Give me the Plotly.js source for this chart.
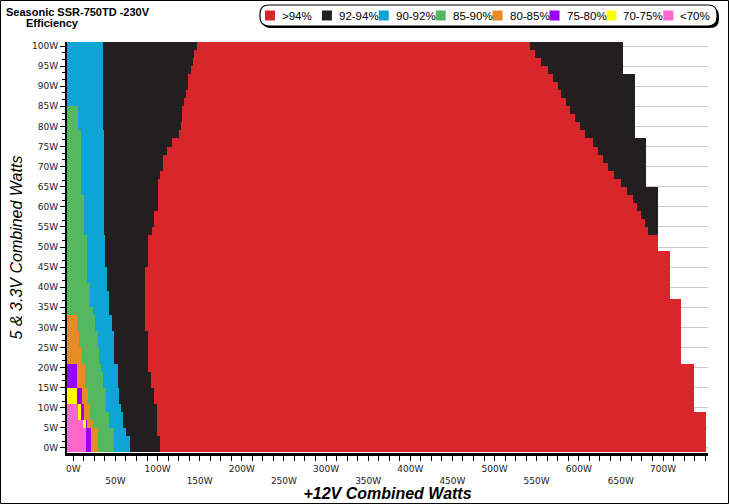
<!DOCTYPE html>
<html><head><meta charset="utf-8">
<script src="https://cdn.plot.ly/plotly-3.0.1.min.js"></script>
<style>html,body{margin:0;padding:0;background:#fff}#chart{width:729px;height:504px}</style>
</head><body><div id="chart"></div>
<script>
// rows of the efficiency map: 5 & 3.3V combined load (W)
const rows = [0,2,4,6,8,10,12,14,16,18,20,22,24,26,28,30,32,34,36,38,40,42,44,46,48,50,
              52,54,56,58,60,62,64,66,68,70,72,74,76,78,80,82,84,86,88,90,92,94,96,98,100];

// right end (+12V W) of each efficiency band in each row, left to right; null / missing = band absent
const pinkEnd   = [15.1,15.1,15.1,11,5.9,5.9];
const yellowEnd = [null,null,null,15.1,9.5,9.5,3.9,3.9];
const purpleEnd = [21,21,21,16.6,13,13,9.9,9.9,3.9,3.9,3.9];
const orangeEnd = [28.9,28.9,28.9,23.8,20.2,20.2,17.8,17.8,13.4,13.4,13.4,10.5,10.5,7.1,7.1,3.9,3.9];
const greenEnd  = [48.7,48.7,48.7,42.8,42.8,38.8,38.8,38.8,35.6,35.6,32.9,31,31,28.9,28.9,26.1,26.1,
                   22.9,19.8,19.8,19.8,15.8,15.8,15.8,15.8,15.8,15.8,13.1,13.1,13.1,13.1,13.1,
                   9.1,9.1,9.1,9.1,9.1,9.1,9.1,9.1,5.1,5.1,5.1];
const blueEnd   = [67.3,67.3,62.6,59.4,59.4,56.7,54.6,54.6,52.6,52.6,52.6,48.7,48.7,48.7,48.7,46,46,
                   42.8,42.8,42.8,39.5,39.5,39.5,37.5,37.5,37.5,37.5,
                   36.8,36.8,36.8,36.8,36.8,36.8,36.8,36.8,36.8,36.8,36.8,36.8,36.8,
                   35.6,35.6,35.6,35.6,35.6,35.6,35.6,35.6,35.6,35.6,35.6];
const blackEnd  = [103,103,98.9,98.9,98.9,98.9,96.2,96.2,92.3,92.3,88.2,88.2,88.2,88.2,88.2,
                   85.5,85.5,85.5,85.5,85.5,85.5,85.5,85.5,89.1,89.1,89.1,89.1,93,96.2,96.2,
                   100.1,100.1,100.1,100.1,103,106.9,106.9,111.6,117.6,125.9,127.9,129.1,129.1,
                   131.8,133.7,135.7,136.6,139.7,141.7,143.7,147.3];
const redEnd    = [750.6,750.6,750.6,750.6,750.6,736.3,736.3,736.3,736.3,736.3,736.3,
                   721.7,721.7,721.7,721.7,721.7,721.7,721.7,721.7,
                   707.8,707.8,707.8,707.8,707.8,707.8,694,694,
                   682.1,678.1,673.4,668.6,663.9,656.8,649.6,641.9,634.6,628.6,622.7,616.7,
                   607.5,601,595,589,584.3,579,575,569.3,563,554.6,547.5,541.6];
const totalEnd  = [750.6,750.6,750.6,750.6,750.6,736.3,736.3,736.3,736.3,736.3,736.3,
                   721.7,721.7,721.7,721.7,721.7,721.7,721.7,721.7,
                   707.8,707.8,707.8,707.8,707.8,707.8,
                   694,694,694,694,694,694,694,694,
                   680.2,680.2,680.2,680.2,680.2,680.2,
                   666.3,666.3,666.3,666.3,666.3,666.3,666.3,666.3,
                   652.4,652.4,652.4,652.4];

const bandNames  = ['<70%','70-75%','75-80%','80-85%','85-90%','90-92%','92-94%','>94%','92-94%'];
const bandColors = ['#FF66CC','#FFFF00','#9900FF','#E98B22','#55B75E','#0EA5D6','#231F20','#D9262B','#231F20'];
const xTickVals = [0,50,100,150,200,250,300,350,400,450,500,550,600,650,700];
const xTickText = ['0W','<br>50W','100W','<br>150W','200W','<br>250W','300W','<br>350W','400W',
                   '<br>450W','500W','<br>550W','600W','<br>650W','700W'];

const X_MIN = -7.5, X_MAX = 753.4;
const bands = [pinkEnd,yellowEnd,purpleEnd,orangeEnd,greenEnd,blueEnd,blackEnd,redEnd,totalEnd];
const bases = bands.map(()=>[]), lens = bands.map(()=>[]);
rows.forEach((r,i)=>{
  let prev = X_MIN;
  bands.forEach((arr,k)=>{
    const e = arr[i];
    bases[k].push(prev);
    if (e === null || e === undefined) { lens[k].push(0); }
    else { lens[k].push(e - prev); prev = e; }
  });
});

const legendOrder = [7,6,5,4,3,2,1,0];
const traces = [7,6,5,4,3,2,1,0,8].map(k=>({
  type:'bar', orientation:'h', y: rows, x: lens[k], base: bases[k], width: 2,
  name: bandNames[k], marker:{color: bandColors[k], line:{width:0}},
  showlegend: false, hoverinfo:'skip'
}));

// px -> paper helpers for decorations (legend frame, legend keys, outer border)
const L=67, R=708, T=42, B=453;
const px = v => (v-L)/(R-L), py = v => (B-v)/(B-T);
function rrect(x0,y0,x1,y1,r){
  const P=(x,y)=>px(x)+','+py(y);
  return 'M'+P(x0+r,y0)+' L'+P(x1-r,y0)+' Q'+P(x1,y0)+' '+P(x1,y0+r)+' L'+P(x1,y1-r)+
         ' Q'+P(x1,y1)+' '+P(x1-r,y1)+' L'+P(x0+r,y1)+' Q'+P(x0,y1)+' '+P(x0,y1-r)+
         ' L'+P(x0,y0+r)+' Q'+P(x0,y0)+' '+P(x0+r,y0)+' Z';
}

const shapes = [
  {type:'path', xref:'paper', yref:'paper', path:rrect(262,7,719,28,9), fillcolor:'#000', line:{width:0}},
  {type:'path', xref:'paper', yref:'paper', path:rrect(260,5,717,26,9), fillcolor:'#fff', line:{color:'#000', width:1.2}},
  {type:'rect', xref:'paper', yref:'paper', x0:px(0.5), x1:px(728.5), y0:py(0.5), y1:py(503.5),
   line:{color:'#000', width:1}, fillcolor:'rgba(0,0,0,0)'}
];
const annotations = [{text:'Efficiency', xref:'paper', yref:'paper', x:px(24), y:py(23), xanchor:'left', yanchor:'middle',
  showarrow:false, font:{family:'Liberation Sans, Arial, sans-serif', size:11, weight:'bold', color:'#000'}}];

// legend keys
legendOrder.forEach((k,i)=>{
  const sx = 265 + i*56.9;
  shapes.push({type:'rect', xref:'paper', yref:'paper', x0:px(sx), x1:px(sx+10), y0:py(20.5), y1:py(10.5),
               fillcolor:bandColors[k], line:{width:0}});
  annotations.push({text:bandNames[k], xref:'paper', yref:'paper', x:px(sx+15), y:py(15.5),
               xanchor:'left', yanchor:'middle', showarrow:false,
               font:{family:'Liberation Sans, Arial, sans-serif', size:11.5, color:'#000'}});
});

const layout = {
  width:729, height:504, margin:{l:67,r:21,t:42,b:51,pad:0},
  paper_bgcolor:'#fff', plot_bgcolor:'#fff',
  barmode:'overlay', bargap:0, showlegend:false,
  font:{family:'Liberation Sans, Arial, sans-serif', color:'#000'},
  title:{text:'Seasonic SSR-750TD -230V', xref:'container', x:6/729, xanchor:'left',
         yref:'container', y:1-12/504, yanchor:'middle',
         font:{family:'Liberation Sans, Arial, sans-serif', size:11, weight:'bold', color:'#000'}},
  xaxis:{range:[X_MIN,X_MAX], tickmode:'array', tickvals:xTickVals, ticktext:xTickText,
         ticks:'outside', ticklen:5, tickwidth:1, tickcolor:'#000',
         minor:{dtick:12.5, tick0:0, ticks:'outside', ticklen:5, tickwidth:1, tickcolor:'#000', showgrid:false},
         showline:true, linecolor:'#000', linewidth:3, showgrid:false, zeroline:false,
         tickfont:{family:'DejaVu Sans', size:9, color:'#222'},
         title:{text:'+12V Combined Watts', standoff:2,
                font:{family:'Liberation Sans, Arial, sans-serif', size:16, weight:'bold', style:'italic', color:'#000'}}},
  yaxis:{range:[-1.25,101], tickmode:'linear', tick0:0, dtick:5, ticksuffix:'W',
         ticks:'outside', ticklen:5, tickwidth:1, tickcolor:'#000',
         minor:{dtick:5/3, tick0:0, ticks:'outside', ticklen:3, tickwidth:1, tickcolor:'#000', showgrid:false},
         showline:true, linecolor:'#000', linewidth:2, showgrid:true, gridcolor:'#c8c8c8', gridwidth:1,
         zeroline:false, tickfont:{family:'DejaVu Sans', size:9, color:'#222'},
         title:{text:'5 & 3.3V Combined Watts', standoff:6,
                font:{family:'Liberation Sans, Arial, sans-serif', size:16, style:'italic', color:'#000'}}},
  annotations: annotations,
  shapes: shapes
};

Plotly.newPlot('chart', traces, layout, {displayModeBar:false, staticPlot:true});
</script></body></html>
